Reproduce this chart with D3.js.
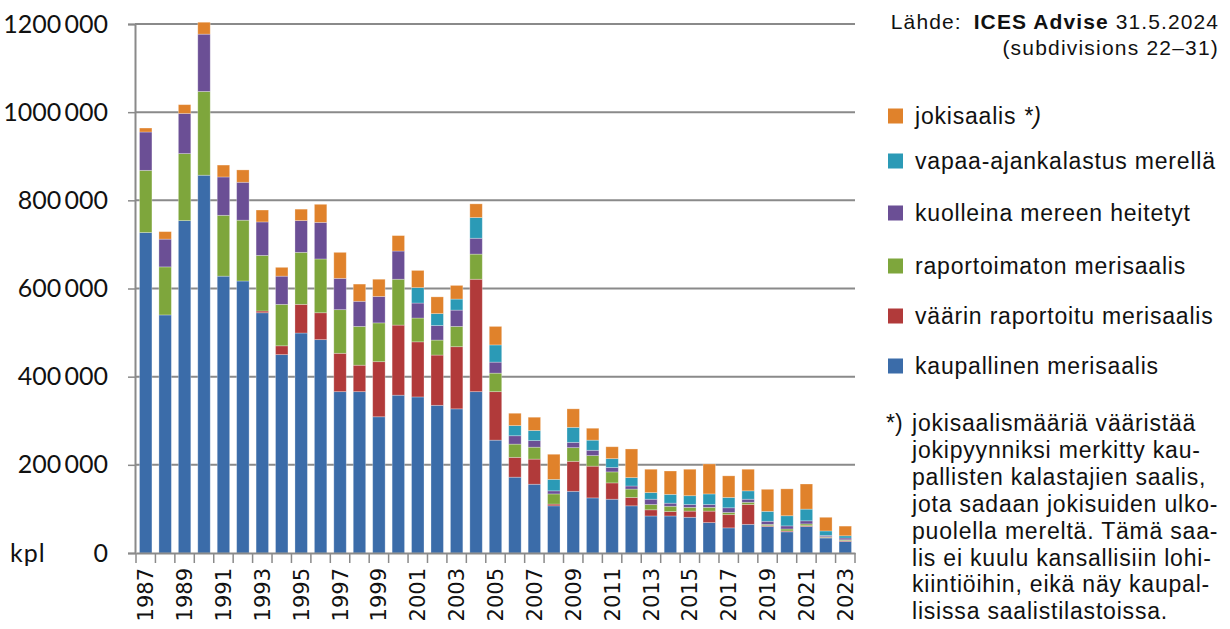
<!DOCTYPE html>
<html>
<head>
<meta charset="utf-8">
<script src="https://cdn.jsdelivr.net/npm/d3@7"></script>
<style>
  body { margin: 0; background: #fff; }
  svg { display: block; }
  .side { font-family: "Liberation Sans", Arial, sans-serif; fill: #111; }
  .num { font-family: Lato, "Open Sans", sans-serif; fill: #111; }
  .yr { font-family: "DejaVu Sans", Verdana, sans-serif; fill: #111; }
</style>
</head>
<body>
<svg id="chart" width="1230" height="629"></svg>
<script>
// vuodet
const years = d3.range(1987, 2024);

// sarjat (tuhatta kpl), alhaalta ylös
const kaupallinen = [727, 540, 754, 857, 628, 617, 545, 450, 499, 484, 366, 366, 309, 358, 354, 335, 327, 366, 256,
  172, 156, 107, 140, 125, 122, 107, 84, 84, 81, 69, 57, 65, 60, 48, 60, 34, 26];
const vaarin = [0, 0, 0, 0, 0, 0, 4, 20, 65, 61, 87, 60, 125, 159, 125, 114, 141, 255, 110,
  45, 57, 4, 68, 72, 37, 19, 14, 10, 14, 26, 30, 45, 2, 2, 2, 1.5, 2];
const raportoimaton = [141, 109, 152, 190, 138, 138, 126, 94, 118, 122, 99, 88, 88, 104, 54, 34, 46, 57, 42,
  30, 27, 23, 31, 24, 25, 19, 12, 12, 8.5, 8.5, 5, 5, 3, 4.5, 4, 1.5, 2];
const kuolleina = [87, 63, 91, 130, 87, 86, 76, 64, 72, 83, 71, 57, 60, 64, 34, 33, 37, 36, 25,
  19, 15, 7, 12, 12, 10, 7, 12, 7, 6.5, 6.5, 10.6, 7, 7, 7, 7, 3, 4];
const vapaaAjan = [0, 0, 0, 0, 0, 0, 0, 0, 0, 0, 0, 0, 0, 0, 35, 27, 25, 47, 39,
  23, 23, 26, 34, 23, 20, 19, 15, 20, 20, 24, 23.4, 19, 22.5, 23, 26.5, 10, 5];
const jokisaalis = [9, 17, 20, 27, 27, 28, 27, 20, 26, 41, 59, 39, 39, 35, 39, 38, 31, 31, 42,
  28, 30, 57, 42, 27, 27, 65, 53, 53, 60, 68, 49, 49, 50, 61, 57, 31, 22];

const seriesKeys = ["kaupallinen", "vaarin", "raportoimaton", "kuolleina", "vapaaAjan", "jokisaalis"];
const seriesNames = ["kaupallinen merisaalis", "väärin raportoitu merisaalis", "raportoimaton merisaalis",
  "kuolleina mereen heitetyt", "vapaa-ajankalastus merellä", "jokisaalis *)"];
const seriesColors = ["#3b6ca9", "#b13a3a", "#7ea63c", "#6b4f95", "#2b9ab6", "#e0822b"];

const yTicks = [0, 200000, 400000, 600000, 800000, 1000000, 1200000];
const yTickLabels = ["0", "200\u2009000", "400\u2009000", "600\u2009000", "800\u2009000", "1000\u2009000", "1200\u2009000"];

const noteLines = ["jokisaalismääriä vääristää", "jokipyynniksi merkitty kau-", "pallisten kalastajien saalis,",
  "jota sadaan jokisuiden ulko-", "puolella mereltä. Tämä saa-", "lis ei kuulu kansallisiin lohi-",
  "kiintiöihin, eikä näy kaupal-", "lisissa saalistilastoissa."];

const raw = { kaupallinen, vaarin, raportoimaton, kuolleina, vapaaAjan, jokisaalis };
const table = years.map((yr, i) => {
  const row = { year: yr };
  seriesKeys.forEach(k => row[k] = raw[k][i] * 1000);
  return row;
});

const svg = d3.select("#chart");
const plot = { left: 135, right: 855, top: 24, bottom: 553 };

const x = d3.scaleBand()
  .domain(years)
  .range([plot.left + 1, plot.right])
  .paddingInner(0.36)
  .paddingOuter(0.18);

const y = d3.scaleLinear()
  .domain([0, 1200000])
  .range([plot.bottom, plot.top]);

const color = d3.scaleOrdinal().domain(seriesKeys).range(seriesColors);

// ruudukko
svg.append("g")
  .selectAll("line")
  .data(yTicks.slice(1))
  .join("line")
  .attr("x1", plot.left)
  .attr("x2", plot.right)
  .attr("y1", d => y(d))
  .attr("y2", d => y(d))
  .attr("stroke", "#8a8a8a")
  .attr("stroke-width", 2);

// pinotut pylväät
const stacked = d3.stack().keys(seriesKeys)(table);

svg.append("g")
  .selectAll("g")
  .data(stacked)
  .join("g")
  .attr("fill", d => color(d.key))
  .selectAll("rect")
  .data(d => d.filter(s => s[1] - s[0] > 0))
  .join("rect")
  .attr("x", d => x(d.data.year))
  .attr("width", x.bandwidth())
  .attr("y", d => y(d[1]))
  .attr("height", d => y(d[0]) - y(d[1]))
  .attr("stroke", "rgba(255,255,255,0.35)")
  .attr("stroke-width", 0.8);

// y-akseli
const yAxis = svg.append("g")
  .attr("transform", `translate(${plot.left},0)`)
  .call(d3.axisLeft(y)
    .tickValues(yTicks)
    .tickFormat((d, i) => yTickLabels[i])
    .tickSize(7)
    .tickPadding(20));
yAxis.select(".domain").attr("stroke", "#8a8a8a").attr("stroke-width", 2);
yAxis.selectAll(".tick line").attr("stroke", "#8a8a8a").attr("stroke-width", 1.5);
yAxis.selectAll(".tick text")
  .attr("class", "num")
  .attr("font-size", 25)
  .attr("fill", "#111");

svg.append("text")
  .attr("class", "num")
  .attr("x", 10)
  .attr("y", plot.bottom + 9)
  .attr("font-size", 25)
  .attr("letter-spacing", 1)
  .text("kpl");

// x-akseli
const xAxis = svg.append("g")
  .attr("transform", `translate(0,${plot.bottom})`)
  .call(d3.axisBottom(x).tickSize(0).tickFormat(d => (d - 1987) % 2 === 0 ? d : ""));
xAxis.select(".domain").attr("stroke", "#8a8a8a").attr("stroke-width", 2);
xAxis.selectAll(".tick text")
  .attr("class", "yr")
  .attr("font-size", 21)
  .attr("fill", "#111")
  .attr("transform", "rotate(-90)")
  .attr("text-anchor", "end")
  .attr("dy", "0.36em")
  .attr("x", -15)
  .attr("y", 0);

// väliviivat luokkien väliin
const gap = (x.step() - x.bandwidth()) / 2;
const bounds = years.map(yr => x(yr) - gap).concat([x(years[years.length - 1]) + x.bandwidth() + gap]);
svg.append("g")
  .selectAll("line")
  .data(bounds)
  .join("line")
  .attr("x1", d => d)
  .attr("x2", d => d)
  .attr("y1", plot.bottom)
  .attr("y2", plot.bottom + 10)
  .attr("stroke", "#8a8a8a")
  .attr("stroke-width", 1.5);

// lähde
const src = svg.append("text")
  .attr("class", "side")
  .attr("x", 1219)
  .attr("y", 29)
  .attr("text-anchor", "end")
  .attr("font-size", 21)
  .attr("letter-spacing", 1.1);
src.append("tspan").text("Lähde:");
src.append("tspan").attr("dx", 12).attr("font-weight", "bold").text("ICES Advise");
src.append("tspan").text(" 31.5.2024");

svg.append("text")
  .attr("class", "side")
  .attr("x", 1219)
  .attr("y", 55)
  .attr("text-anchor", "end")
  .attr("font-size", 21)
  .attr("letter-spacing", 1.2)
  .text("(subdivisions 22–31)");

// selite
const legendY = [116, 161, 213, 266, 316, 366];
const legend = svg.append("g")
  .selectAll("g")
  .data(seriesKeys.slice().reverse())
  .join("g")
  .attr("transform", (d, i) => `translate(888,${legendY[i]})`);

legend.append("rect")
  .attr("x", 0)
  .attr("y", -7.5)
  .attr("width", 15)
  .attr("height", 15)
  .attr("fill", d => color(d));

legend.append("text")
  .attr("class", "side")
  .attr("x", 27)
  .attr("y", 0)
  .attr("dy", "0.35em")
  .attr("font-size", 23)
  .attr("letter-spacing", 0.8)
  .each(function(d) {
    const name = seriesNames[seriesKeys.indexOf(d)];
    const t = d3.select(this);
    if (d === "jokisaalis") {
      t.append("tspan").text("jokisaalis ");
      t.append("tspan").attr("font-style", "italic").text("*)");
    } else {
      t.text(name);
    }
  });

// alaviite
svg.append("text")
  .attr("class", "side")
  .attr("x", 886)
  .attr("y", 431)
  .attr("font-size", 23)
  .text("*)");

svg.append("g")
  .selectAll("text")
  .data(noteLines)
  .join("text")
  .attr("class", "side")
  .attr("x", 912)
  .attr("y", (d, i) => 431 + i * 26.9)
  .attr("font-size", 23)
  .attr("letter-spacing", 0.8)
  .text(d => d);
</script>
</body>
</html>
